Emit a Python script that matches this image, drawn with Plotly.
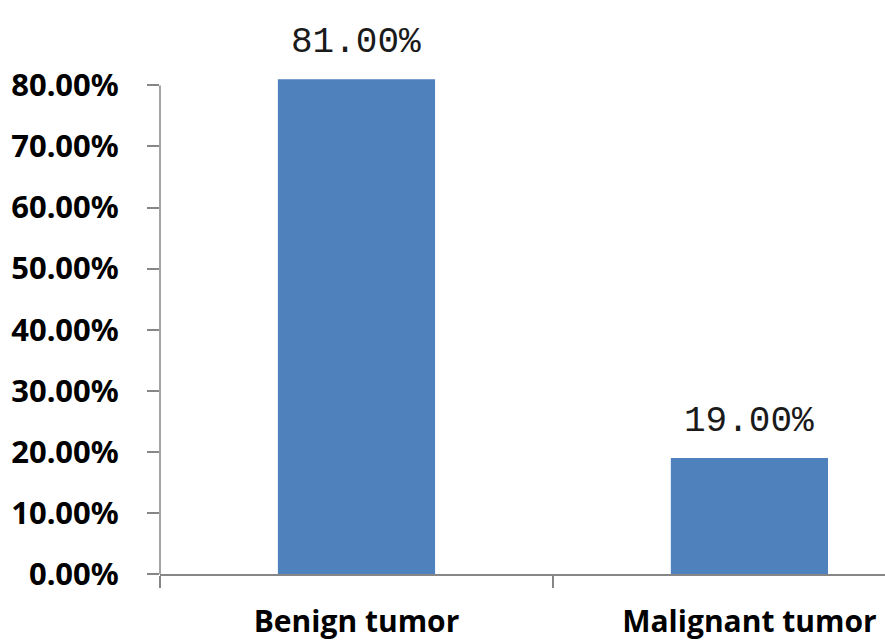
import plotly.graph_objects as go

# Tumour type distribution
categories = ["Benign tumor", "Malignant tumor"]
shares = [0.81, 0.19]
tick_values = [0.0, 0.1, 0.2, 0.3, 0.4, 0.5, 0.6, 0.7, 0.8]

BAR_COLOR = "#4F81BD"
AXIS_COLOR = "#868686"

fig = go.Figure(
    go.Bar(
        x=categories,
        y=shares,
        width=0.4,
        marker=dict(color=BAR_COLOR, line=dict(width=0)),
        hoverinfo="skip",
    )
)

# Value labels floating above each bar
for cat, val in zip(categories, shares):
    fig.add_annotation(
        x=cat,
        y=val,
        text=f"{val * 100:.2f}%",
        showarrow=False,
        yanchor="bottom",
        yshift=14,
        font=dict(family="Liberation Mono", size=36, color="#1a1a1a"),
    )

fig.update_layout(
    width=885,
    height=644,
    margin=dict(l=160, r=0, t=6, b=70),
    paper_bgcolor="white",
    plot_bgcolor="white",
    showlegend=False,
)

fig.update_xaxes(
    type="category",
    range=[-0.5, 1.345],
    showline=True,
    linecolor=AXIS_COLOR,
    linewidth=1.5,
    ticks="outside",
    tickson="boundaries",
    ticklen=12,
    tickcolor=AXIS_COLOR,
    tickwidth=1.5,
    ticklabelstandoff=20,
    tickfont=dict(family="Open Sans", size=30, color="#000000", weight="bold"),
    showgrid=False,
    zeroline=False,
)

fig.update_yaxes(
    range=[0, 0.93],
    tickvals=tick_values,
    tickformat=".2%",
    showline=False,
    ticks="outside",
    ticklen=12,
    tickcolor=AXIS_COLOR,
    tickwidth=1.5,
    ticklabelstandoff=22,
    tickfont=dict(family="Noto Sans", size=31, color="#000000", weight="bold"),
    showgrid=False,
    zeroline=False,
)

# Vertical axis line running from 0 up to the top tick
fig.add_shape(
    type="line",
    xref="paper",
    yref="y",
    x0=0,
    x1=0,
    y0=tick_values[0],
    y1=tick_values[-1],
    line=dict(color=AXIS_COLOR, width=1.5),
    layer="below",
)

fig.write_html("out.html")
